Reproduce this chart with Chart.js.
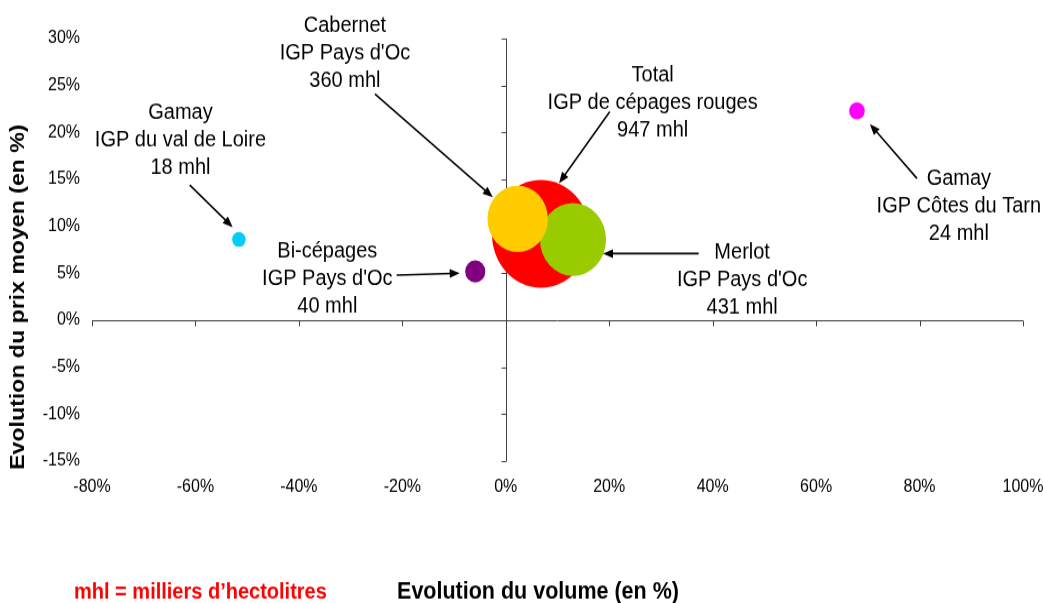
<!DOCTYPE html>
<html>
<head>
<meta charset="utf-8">
<script src="https://cdn.jsdelivr.net/npm/chart.js@4"></script>
<style>
html, body { margin: 0; padding: 0; background: #fff; overflow: hidden; }
/* the reference picture is slightly stretched vertically */
#wrap { position: absolute; left: 0; top: 0; width: 1043px; height: 548px; transform: scaleY(1.1004); transform-origin: 0 0; }
#bubbles { display: block; }
</style>
</head>
<body>
<div id="wrap"><canvas id="bubbles" width="1043" height="548"></canvas></div>
<script>
const categories = ["Total", "Merlot", "Cabernet", "Bi-cépages", "Gamay", "Gamay"];
const regions = ["IGP de cépages rouges", "IGP Pays d'Oc", "IGP Pays d'Oc", "IGP Pays d'Oc", "IGP du val de Loire", "IGP Côtes du Tarn"];
const volumes = [947, 431, 360, 40, 18, 24]; // mhl
const volumeChange = [6.8, 13.0, 2.3, -5.9, -51.6, 67.9]; // %
const priceChange = [9.2, 8.6, 10.8, 5.2, 8.6, 22.3]; // %
const colors = ["#ff0000", "#99cc00", "#ffcc00", "#800080", "#00ccff", "#ff00ff"];

// label placement (data units): text centre / first line, arrow start and end
const callouts = [
	{ x: 28.4, y: 26.2, from: [20.1, 22.2], to: [10.3, 14.6] },
	{ x: 45.7, y: 7.4, from: [37.3, 7.1], to: [18.8, 7.1] },
	{ x: -31.1, y: 31.5, from: [-25.3, 24.1], to: [-2.5, 13.1] },
	{ x: -34.5, y: 7.45, from: [-21.1, 4.8], to: [-8.9, 5.0] },
	{ x: -62.9, y: 22.3, from: [-61.1, 14.4], to: [-52.8, 9.9] },
	{ x: 87.6, y: 15.2, from: [79.5, 15.1], to: [70.4, 20.9] },
];

const FONT = '"Liberation Sans", Arial, sans-serif';
const maxRadius = 49;

const points = categories.map((c, i) => ({
	x: volumeChange[i],
	y: priceChange[i],
	r: maxRadius * Math.sqrt(volumes[i] / volumes[0]),
}));

function arrow(ctx, x1, y1, x2, y2) {
	const a = Math.atan2(y2 - y1, x2 - x1);
	const len = 10, half = 4;
	const c = Math.cos(a), s = Math.sin(a);
	ctx.beginPath();
	ctx.moveTo(x1, y1);
	ctx.lineTo(x2 - c * len * 0.8, y2 - s * len * 0.8);
	ctx.stroke();
	ctx.beginPath();
	ctx.moveTo(x2, y2);
	ctx.lineTo(x2 - c * len + s * half, y2 - s * len - c * half);
	ctx.lineTo(x2 - c * len - s * half, y2 - s * len + c * half);
	ctx.closePath();
	ctx.fill();
}

const crossAxes = {
	id: "crossAxes",
	beforeDatasetsDraw(chart) {
		const { ctx, chartArea: a, scales: { x, y } } = chart;
		const x0 = Math.round(x.getPixelForValue(0)) + 0.5;
		const y0 = Math.round(y.getPixelForValue(0)) + 0.5;
		ctx.save();
		ctx.strokeStyle = "#404040";
		ctx.lineWidth = 1;
		ctx.beginPath();
		ctx.moveTo(x0, a.top);
		ctx.lineTo(x0, a.bottom);
		ctx.moveTo(a.left, y0);
		ctx.lineTo(a.right, y0);
		x.ticks.forEach((t) => {
			const px = Math.round(x.getPixelForValue(t.value)) + 0.5;
			ctx.moveTo(px, y0);
			ctx.lineTo(px, y0 + 5);
		});
		y.ticks.forEach((t) => {
			const py = Math.round(y.getPixelForValue(t.value)) + 0.5;
			ctx.moveTo(x0 - 5, py);
			ctx.lineTo(x0, py);
		});
		ctx.stroke();
		ctx.restore();
	},
};

const annotations = {
	id: "annotations",
	afterDraw(chart) {
		const { ctx, scales: { x, y } } = chart;
		ctx.save();
		ctx.fillStyle = "#000";
		ctx.strokeStyle = "#000";
		ctx.lineWidth = 1.6;
		ctx.font = "20px " + FONT;
		ctx.textAlign = "center";
		ctx.textBaseline = "middle";
		callouts.forEach((c, i) => {
			const lines = [categories[i], regions[i], volumes[i] + " mhl"];
			const cx = x.getPixelForValue(c.x);
			const cy = y.getPixelForValue(c.y) + 1.5;
			lines.forEach((l, j) => ctx.fillText(l, cx, cy + j * 25));
			arrow(ctx,
				x.getPixelForValue(c.from[0]), y.getPixelForValue(c.from[1]),
				x.getPixelForValue(c.to[0]), y.getPixelForValue(c.to[1]));
		});

		// titles and note
		ctx.font = "bold 21.5px " + FONT;
		ctx.fillText("Evolution du volume (en %)", 538, 538);
		ctx.save();
		ctx.translate(18, 270);
		ctx.rotate(-Math.PI / 2);
		ctx.font = "bold 21px " + FONT;
		ctx.fillText("Evolution du prix moyen (en %)", 0, 0);
		ctx.restore();
		ctx.textAlign = "left";
		ctx.fillStyle = "#ff0000";
		ctx.font = "bold 20px " + FONT;
		ctx.fillText("mhl = milliers d\u2019hectolitres", 74, 538);
		ctx.restore();
	},
};

Chart.defaults.font.family = FONT;
Chart.defaults.color = "#000";

new Chart(document.getElementById("bubbles"), {
	type: "bubble",
	data: {
		datasets: [
			{
				data: points,
				backgroundColor: colors,
				borderWidth: 0,
				hoverBorderWidth: 0,
			},
		],
	},
	options: {
		responsive: false,
		animation: false,
		layout: { autoPadding: false, padding: { top: 35, right: 20, left: 0, bottom: 0 } },
		plugins: { legend: { display: false }, tooltip: { enabled: false } },
		scales: {
			x: {
				type: "linear",
				min: -80,
				max: 100,
				afterFit: (s) => { s.height = 129; s.paddingLeft = 0; s.paddingRight = 0; },
				grid: { display: false, drawTicks: false },
				border: { display: false },
				ticks: { stepSize: 20, padding: 14, font: { size: 16 }, callback: (v) => v + "%" },
			},
			y: {
				type: "linear",
				min: -15,
				max: 30,
				afterFit: (s) => { s.width = 92; s.paddingTop = 0; s.paddingBottom = 0; },
				grid: { display: false, drawTicks: false },
				border: { display: false },
				ticks: { stepSize: 5, padding: 12, font: { size: 16 }, callback: (v) => v + "%" },
			},
		},
	},
	plugins: [crossAxes, annotations],
});
</script>
</body>
</html>
